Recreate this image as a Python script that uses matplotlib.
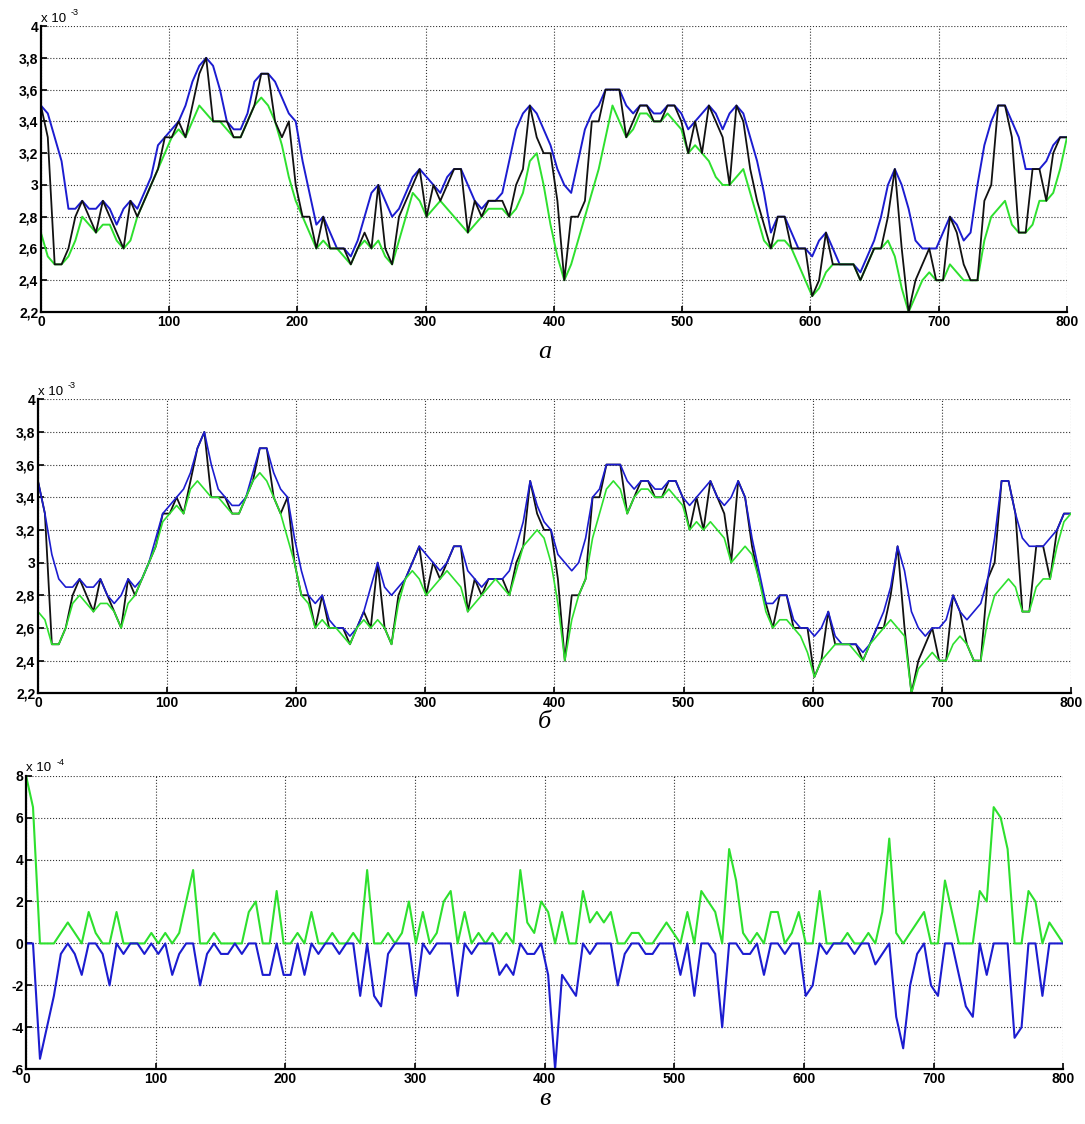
import numpy as np
import matplotlib
matplotlib.use('Agg')
import matplotlib.pyplot as plt
from matplotlib.ticker import FuncFormatter

# sample positions (150 samples over 0..800)
x = np.linspace(0, 800, 150)

# signal, x 1e-3
signal = [3.5, 3.3, 2.5, 2.5, 2.6, 2.8, 2.9, 2.8, 2.7, 2.9,
          2.8, 2.7, 2.6, 2.9, 2.8, 2.9, 3.0, 3.1, 3.3, 3.3,
          3.4, 3.3, 3.5, 3.7, 3.8, 3.4, 3.4, 3.4, 3.3, 3.3,
          3.4, 3.5, 3.7, 3.7, 3.4, 3.3, 3.4, 3.0, 2.8, 2.8,
          2.6, 2.8, 2.6, 2.6, 2.6, 2.5, 2.6, 2.7, 2.6, 3.0,
          2.6, 2.5, 2.8, 2.9, 3.0, 3.1, 2.8, 3.0, 2.9, 3.0,
          3.1, 3.1, 2.7, 2.9, 2.8, 2.9, 2.9, 2.9, 2.8, 3.0,
          3.1, 3.5, 3.3, 3.2, 3.2, 2.9, 2.4, 2.8, 2.8, 2.9,
          3.4, 3.4, 3.6, 3.6, 3.6, 3.3, 3.4, 3.5, 3.5, 3.4,
          3.4, 3.5, 3.5, 3.4, 3.2, 3.4, 3.2, 3.5, 3.4, 3.3,
          3.0, 3.5, 3.4, 3.1, 2.9, 2.75, 2.6, 2.8, 2.8, 2.6,
          2.6, 2.6, 2.3, 2.4, 2.7, 2.5, 2.5, 2.5, 2.5, 2.4,
          2.5, 2.6, 2.6, 2.8, 3.1, 2.6, 2.2, 2.4, 2.5, 2.6,
          2.4, 2.4, 2.8, 2.7, 2.5, 2.4, 2.4, 2.9, 3.0, 3.5,
          3.5, 3.3, 2.7, 2.7, 3.1, 3.1, 2.9, 3.2, 3.3, 3.3]

# envelopes of panel a, x 1e-3
upper_a = [3.5, 3.45, 3.3, 3.15, 2.85, 2.85, 2.9, 2.85, 2.85, 2.9,
           2.85, 2.75, 2.85, 2.9, 2.85, 2.95, 3.05, 3.25, 3.3, 3.35,
           3.4, 3.5, 3.65, 3.75, 3.8, 3.75, 3.6, 3.4, 3.35, 3.35,
           3.45, 3.65, 3.7, 3.7, 3.65, 3.55, 3.45, 3.4, 3.15, 2.95,
           2.75, 2.8, 2.7, 2.6, 2.6, 2.55, 2.65, 2.8, 2.95, 3.0,
           2.9, 2.8, 2.85, 2.95, 3.05, 3.1, 3.05, 3.0, 2.95, 3.05,
           3.1, 3.1, 3.0, 2.9, 2.85, 2.9, 2.9, 2.95, 3.15, 3.35,
           3.45, 3.5, 3.45, 3.35, 3.25, 3.1, 3.0, 2.95, 3.15, 3.35,
           3.45, 3.5, 3.6, 3.6, 3.6, 3.5, 3.45, 3.5, 3.5, 3.45,
           3.45, 3.5, 3.5, 3.45, 3.35, 3.4, 3.45, 3.5, 3.45, 3.35,
           3.45, 3.5, 3.45, 3.3, 3.15, 2.95, 2.7, 2.8, 2.8, 2.7,
           2.6, 2.6, 2.55, 2.65, 2.7, 2.6, 2.5, 2.5, 2.5, 2.45,
           2.55, 2.65, 2.8, 3.0, 3.1, 3.0, 2.85, 2.65, 2.6, 2.6,
           2.6, 2.7, 2.8, 2.75, 2.65, 2.7, 3.0, 3.25, 3.4, 3.5,
           3.5, 3.4, 3.3, 3.1, 3.1, 3.1, 3.15, 3.25, 3.3, 3.3]

lower_a = [2.7, 2.55, 2.5, 2.5, 2.55, 2.65, 2.8, 2.75, 2.7, 2.75,
           2.75, 2.65, 2.6, 2.65, 2.8, 2.9, 3.0, 3.1, 3.2, 3.3,
           3.35, 3.3, 3.4, 3.5, 3.45, 3.4, 3.4, 3.35, 3.3, 3.3,
           3.4, 3.5, 3.55, 3.5, 3.4, 3.25, 3.05, 2.9, 2.8, 2.7,
           2.6, 2.65, 2.6, 2.6, 2.55, 2.5, 2.6, 2.65, 2.6, 2.65,
           2.55, 2.5, 2.65, 2.8, 2.95, 2.9, 2.8, 2.85, 2.9, 2.85,
           2.8, 2.75, 2.7, 2.75, 2.8, 2.85, 2.85, 2.85, 2.8, 2.85,
           2.95, 3.15, 3.2, 3.0, 2.75, 2.55, 2.4, 2.5, 2.65, 2.8,
           2.95, 3.1, 3.3, 3.5, 3.4, 3.3, 3.35, 3.45, 3.45, 3.4,
           3.4, 3.45, 3.4, 3.35, 3.2, 3.25, 3.2, 3.15, 3.05, 3.0,
           3.0, 3.05, 3.1, 2.95, 2.8, 2.65, 2.6, 2.65, 2.65, 2.6,
           2.5, 2.4, 2.3, 2.35, 2.45, 2.5, 2.5, 2.5, 2.5, 2.4,
           2.5, 2.6, 2.6, 2.65, 2.55, 2.35, 2.2, 2.3, 2.4, 2.45,
           2.4, 2.4, 2.5, 2.45, 2.4, 2.4, 2.4, 2.65, 2.8, 2.85,
           2.9, 2.75, 2.7, 2.7, 2.75, 2.9, 2.9, 2.95, 3.1, 3.3]

# panel v: signal minus envelopes of panel b, x 1e-4
diff_low = [8, 6.5, 0, 0, 0, 0.5, 1, 0.5, 0, 1.5,
            0.5, 0, 0, 1.5, 0, 0, 0, 0, 0.5, 0,
            0.5, 0, 0.5, 2, 3.5, 0, 0, 0.5, 0, 0,
            0, 0, 1.5, 2, 0, 0, 2.5, 0, 0, 0.5,
            0, 1.5, 0, 0, 0.5, 0, 0, 0.5, 0, 3.5,
            0, 0, 0.5, 0, 0.5, 2, 0, 1.5, 0, 0.5,
            2, 2.5, 0, 1.5, 0, 0.5, 0, 0.5, 0, 0.5,
            0, 3.5, 1, 0.5, 2, 1.5, 0, 1.5, 0, 0,
            2.5, 1, 1.5, 1, 1.5, 0, 0, 0.5, 0.5, 0,
            0, 0.5, 1, 0.5, 0, 1.5, 0, 2.5, 2, 1.5,
            0, 4.5, 3, 0.5, 0, 0.5, 0, 1.5, 1.5, 0,
            0.5, 1.5, 0, 0, 2.5, 0, 0, 0, 0.5, 0,
            0, 0.5, 0, 1.5, 5, 0.5, 0, 0.5, 1, 1.5,
            0, 0, 3, 1.5, 0, 0, 0, 2.5, 2, 6.5,
            6, 4.5, 0, 0, 2.5, 2, 0, 1, 0.5, 0]

diff_up = [0, 0, -5.5, -4, -2.5, -0.5, 0, -0.5, -1.5, 0,
           0, -0.5, -2, 0, -0.5, 0, 0, -0.5, 0, -0.5,
           0, -1.5, -0.5, 0, 0, -2, -0.5, 0, -0.5, -0.5,
           0, -0.5, 0, 0, -1.5, -1.5, 0, -1.5, -1.5, 0,
           -1.5, 0, -0.5, 0, 0, -0.5, 0, 0, -2.5, 0,
           -2.5, -3, -0.5, 0, 0, 0, -2.5, 0, -0.5, 0,
           0, 0, -2.5, 0, -0.5, 0, 0, 0, -1.5, -1,
           -1.5, 0, -0.5, -0.5, 0, -1.5, -6, -1.5, -2, -2.5,
           0, -0.5, 0, 0, 0, -2, -0.5, 0, 0, -0.5,
           -0.5, 0, 0, 0, -1.5, 0, -2.5, 0, 0, -0.5,
           -4, 0, 0, -0.5, -0.5, 0, -1.5, 0, 0, -0.5,
           0, 0, -2.5, -2, 0, -0.5, 0, 0, 0, -0.5,
           0, 0, -1, -0.5, 0, -3.5, -5, -2, -0.5, 0,
           -2, -2.5, 0, 0, -1.5, -3, -3.5, 0, -1.5, 0,
           0, 0, -4.5, -4, 0, 0, -2.5, 0, 0, 0]

sig = np.array(signal)
upper_b = sig - np.array(diff_up) / 10
lower_b = sig - np.array(diff_low) / 10

BLACK = '#111111'
BLUE = '#1c1cd0'
GREEN = '#2ee02e'
FONT = 'Liberation Sans'

fig = plt.figure(figsize=(10.85, 11.24), dpi=100)


def comma(v, pos):
    return ('%g' % round(v, 4)).replace('.', ',')


def style(ax, ylim, yticks, exp):
    ax.set_xlim(0, 800)
    ax.set_ylim(*ylim)
    ax.set_xticks(range(0, 801, 100))
    ax.set_yticks(yticks)
    ax.yaxis.set_major_formatter(FuncFormatter(comma))
    ax.grid(True, linestyle=':', color='#333333', linewidth=0.8)
    for s in ['top', 'right']:
        ax.spines[s].set_visible(False)
    for s in ['left', 'bottom']:
        ax.spines[s].set_linewidth(1.6)
    ax.tick_params(direction='in', length=4, width=1.2, pad=2)
    for lab in ax.get_xticklabels() + ax.get_yticklabels():
        lab.set_fontfamily(FONT)
        lab.set_fontweight('bold')
        lab.set_fontsize(10)
    ax.text(0.0, 1.004, 'x 10', transform=ax.transAxes, ha='left', va='bottom',
            fontsize=9.5, family=FONT)
    ax.text(0.029, 1.03, exp, transform=ax.transAxes, ha='left', va='bottom',
            fontsize=6.5, family=FONT)


# panel a
ax1 = fig.add_axes([0.0377, 0.7224, 0.9457, 0.2544])
ax1.plot(x, upper_a, color=BLUE, lw=1.4)
ax1.plot(x, lower_a, color=GREEN, lw=1.4)
ax1.plot(x, signal, color=BLACK, lw=1.3)
style(ax1, (2.2, 4), np.arange(2.2, 4.01, 0.2), '-3')

# panel b
ax2 = fig.add_axes([0.035, 0.3832, 0.952, 0.2616])
ax2.plot(x, signal, color=BLACK, lw=1.3)
ax2.plot(x, upper_b, color=BLUE, lw=1.2)
ax2.plot(x, lower_b, color=GREEN, lw=1.2)
style(ax2, (2.2, 4), np.arange(2.2, 4.01, 0.2), '-3')

# panel v
ax3 = fig.add_axes([0.024, 0.0487, 0.956, 0.2612])
ax3.plot(x, diff_low, color=GREEN, lw=1.5)
ax3.plot(x, diff_up, color=BLUE, lw=1.5)
style(ax3, (-6, 8), range(-6, 9, 2), '-4')

for lbl, yy in [('а', 0.687), ('б', 0.358), ('в', 0.022)]:
    fig.text(0.502, yy, lbl, ha='center', va='center', fontsize=19,
             family='Liberation Serif', style='italic')

fig.savefig('out.png', dpi=100)
